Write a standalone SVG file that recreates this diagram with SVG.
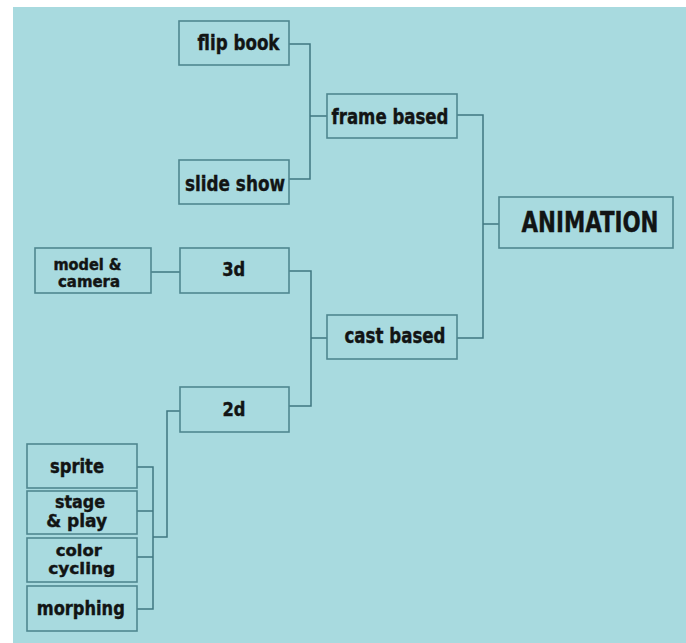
<svg xmlns="http://www.w3.org/2000/svg" width="686" height="643" viewBox="0 0 686 643">
<style>
.box{fill:none;stroke:#4f8790;stroke-width:1.6}
.ln{fill:none;stroke:#3f7781;stroke-width:1.5}
.t{font-family:"DejaVu Sans Condensed","DejaVu Sans","Liberation Sans",sans-serif;font-stretch:condensed;font-weight:bold;fill:#121414;text-anchor:middle;stroke:#121414;stroke-width:0.4}
.m{font-size:22px}
.s{font-size:19px}
</style>
<rect x="0" y="0" width="686" height="643" fill="#ffffff"/>
<rect x="13" y="7" width="673" height="636" fill="#a8dadf"/>
<g id="connectors">
<path class="ln" d="M289,44 H310 V179 H289 M310,116 H327"/>
<path class="ln" d="M457,115 H483 V338 H457 M483,224 H499"/>
<path class="ln" d="M151,272 H180"/>
<path class="ln" d="M289,271 H311 V406 H289 M311,338 H327"/>
<path class="ln" d="M180,411 H167 V537 H153"/>
<path class="ln" d="M137,467 H153 V609 H137 M137,511 H153 M137,557 H153"/>
</g>
<g id="flip-book"><rect class="box" x="179" y="21" width="110" height="44"/><text class="t m" x="238.5" y="50" textLength="82" lengthAdjust="spacingAndGlyphs">flip book</text></g>
<g id="slide-show"><rect class="box" x="179" y="160" width="110" height="44"/><text class="t m" x="235" y="191" textLength="100" lengthAdjust="spacingAndGlyphs">slide show</text></g>
<g id="frame-based"><rect class="box" x="327" y="94" width="130" height="44"/><text class="t m" x="390" y="124" textLength="117" lengthAdjust="spacingAndGlyphs">frame based</text></g>
<g id="animation"><rect class="box" x="499" y="197" width="174" height="51"/><text class="t" font-size="28" x="590" y="232" textLength="137" lengthAdjust="spacingAndGlyphs">ANIMATION</text></g>
<g id="cast-based"><rect class="box" x="327" y="315" width="130" height="44"/><text class="t m" x="395" y="343" textLength="101" lengthAdjust="spacingAndGlyphs">cast based</text></g>
<g id="model-camera"><rect class="box" x="35" y="248" width="116" height="45"/><text class="t" font-size="15"><tspan x="87.5" y="270" textLength="68" lengthAdjust="spacingAndGlyphs">model &amp;</tspan><tspan x="89" y="287" textLength="62" lengthAdjust="spacingAndGlyphs">camera</tspan></text></g>
<g id="3d"><rect class="box" x="180" y="248" width="109" height="45"/><text class="t s" x="233.7" y="276" textLength="23" lengthAdjust="spacingAndGlyphs">3d</text></g>
<g id="2d"><rect class="box" x="180" y="387" width="109" height="45"/><text class="t s" x="234" y="416" textLength="23" lengthAdjust="spacingAndGlyphs">2d</text></g>
<g id="sprite"><rect class="box" x="27" y="444" width="110" height="44"/><text class="t s" x="77" y="473" textLength="54" lengthAdjust="spacingAndGlyphs">sprite</text></g>
<g id="stage-play"><rect class="box" x="27" y="491" width="110" height="43"/><text class="t" font-size="18.5"><tspan x="80" y="508" textLength="50" lengthAdjust="spacingAndGlyphs">stage</tspan><tspan x="76.7" y="527" textLength="61" lengthAdjust="spacingAndGlyphs">&amp; play</tspan></text></g>
<g id="color-cycling"><rect class="box" x="27" y="538" width="110" height="44"/><text class="t" font-size="16"><tspan x="78.8" y="556" textLength="46" lengthAdjust="spacingAndGlyphs">color</tspan><tspan x="81.7" y="574" textLength="67" lengthAdjust="spacingAndGlyphs">cycling</tspan></text></g>
<g id="morphing"><rect class="box" x="27" y="586" width="110" height="45"/><text class="t s" x="80.8" y="615" textLength="88" lengthAdjust="spacingAndGlyphs">morphing</text></g>
</svg>
